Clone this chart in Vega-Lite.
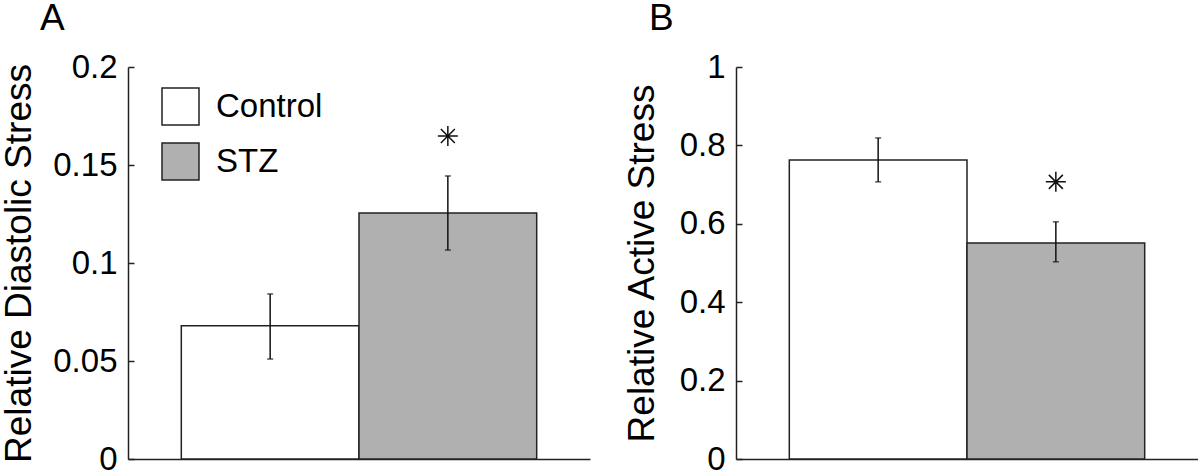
{
  "$schema": "https://vega.github.io/schema/vega-lite/v6.json",
  "autosize": {"type": "pad"},
  "padding": {"left": 0, "top": 0, "right": 0, "bottom": 0},
  "background": "white",
  "config": {
    "font": "Liberation Sans",
    "view": {"stroke": null},
    "axis": {"grid": false, "domainColor": "#222", "domainWidth": 1.5, "tickColor": "#222", "tickWidth": 1.5, "labelColor": "black", "titleColor": "black", "labelFont": "Liberation Sans", "titleFont": "Liberation Sans", "titleFontWeight": "normal"},
    "legend": {"labelFont": "Liberation Sans"},
    "title": {"font": "Liberation Sans"}
  },
  "datasets": {
    "bars": [
      {"panel": "A", "group": "Control", "pos": 1, "lo_edge": 0.5, "hi_edge": 1.5, "mean": 0.068, "lo": 0.051, "hi": 0.0842},
      {"panel": "A", "group": "STZ", "pos": 2, "lo_edge": 1.5, "hi_edge": 2.5, "mean": 0.1255, "lo": 0.1066, "hi": 0.1444},
      {"panel": "B", "group": "Control", "pos": 1, "lo_edge": 0.5, "hi_edge": 1.5, "mean": 0.763, "lo": 0.707, "hi": 0.819},
      {"panel": "B", "group": "STZ", "pos": 2, "lo_edge": 1.5, "hi_edge": 2.5, "mean": 0.551, "lo": 0.503, "hi": 0.605}
    ],
    "stars": [
      {"panel": "A", "pos": 2, "y": 0.1648},
      {"panel": "B", "pos": 2, "y": 0.707}
    ]
  },
  "resolve": {"scale": {"fill": "independent"}, "legend": {"fill": "independent"}},
  "bounds": "flush",
  "spacing": 146,
  "hconcat": [
    {
      "width": 462,
      "height": 392,
      "title": {"text": "A", "anchor": "start", "frame": "group", "fontSize": 37, "fontWeight": "normal", "dx": -88, "offset": 13, "color": "black"},
      "layer": [
        {
          "data": {"name": "bars"},
          "transform": [{"filter": "datum.panel === 'A'"}],
          "mark": {"type": "bar", "stroke": "#222", "strokeWidth": 1.5},
          "encoding": {
            "x": {"field": "lo_edge", "type": "quantitative", "scale": {"domain": [0.2, 2.8], "nice": false, "zero": false}, "axis": {"title": null, "labels": false, "ticks": false, "domain": true}},
            "x2": {"field": "hi_edge"},
            "y": {"field": "mean", "type": "quantitative", "scale": {"domain": [0, 0.2], "nice": false}, "axis": {"title": "Relative Diastolic Stress", "values": [0, 0.05, 0.1, 0.15, 0.2], "format": "~g", "tickSize": -6, "labelPadding": 17, "labelFontSize": 33, "titleFontSize": 37, "titlePadding": 14}},
            "y2": {"datum": 0},
            "fill": {"field": "group", "type": "nominal", "scale": {"domain": ["Control", "STZ"], "range": ["white", "#b0b0b0"]}, "legend": {"title": null, "orient": "none", "legendX": 33, "legendY": 20, "symbolType": "square", "symbolSize": 1369, "symbolStrokeColor": "#222", "symbolStrokeWidth": 1.5, "labelFontSize": 33, "labelColor": "black", "labelOffset": 16, "rowPadding": 12, "padding": 0}}
          }
        },
        {
          "data": {"name": "bars"},
          "transform": [{"filter": "datum.panel === 'A'"}],
          "mark": {"type": "rule", "color": "#111", "strokeWidth": 1.5},
          "encoding": {"x": {"field": "pos", "type": "quantitative"}, "y": {"field": "lo", "type": "quantitative"}, "y2": {"field": "hi"}}
        },
        {
          "data": {"name": "bars"},
          "transform": [{"filter": "datum.panel === 'A'"}],
          "mark": {"type": "tick", "orient": "horizontal", "color": "#111", "size": 6, "thickness": 1.5},
          "encoding": {"x": {"field": "pos", "type": "quantitative"}, "y": {"field": "lo", "type": "quantitative"}}
        },
        {
          "data": {"name": "bars"},
          "transform": [{"filter": "datum.panel === 'A'"}],
          "mark": {"type": "tick", "orient": "horizontal", "color": "#111", "size": 6, "thickness": 1.5},
          "encoding": {"x": {"field": "pos", "type": "quantitative"}, "y": {"field": "hi", "type": "quantitative"}}
        },
        {
          "data": {"name": "stars"},
          "transform": [{"filter": "datum.panel === 'A'"}],
          "mark": {"type": "point", "shape": "M-1,0L1,0M0,-1L0,1M-0.7,-0.7L0.7,0.7M-0.7,0.7L0.7,-0.7", "size": 400, "stroke": "#111", "strokeWidth": 1.5, "filled": false, "opacity": 1},
          "encoding": {"x": {"field": "pos", "type": "quantitative"}, "y": {"field": "y", "type": "quantitative"}}
        }
      ]
    },
    {
      "width": 462,
      "height": 392,
      "title": {"text": "B", "anchor": "start", "frame": "group", "fontSize": 37, "fontWeight": "normal", "dx": -87, "offset": 13, "color": "black"},
      "layer": [
        {
          "data": {"name": "bars"},
          "transform": [{"filter": "datum.panel === 'B'"}],
          "mark": {"type": "bar", "stroke": "#222", "strokeWidth": 1.5},
          "encoding": {
            "x": {"field": "lo_edge", "type": "quantitative", "scale": {"domain": [0.2, 2.8], "nice": false, "zero": false}, "axis": {"title": null, "labels": false, "ticks": false, "domain": true}},
            "x2": {"field": "hi_edge"},
            "y": {"field": "mean", "type": "quantitative", "scale": {"domain": [0, 1], "nice": false}, "axis": {"title": "Relative Active Stress", "values": [0, 0.2, 0.4, 0.6, 0.8, 1], "format": "~g", "tickSize": -6, "labelPadding": 17, "labelFontSize": 33, "titleFontSize": 37, "titlePadding": 18}},
            "y2": {"datum": 0},
            "fill": {"field": "group", "type": "nominal", "scale": {"domain": ["Control", "STZ"], "range": ["white", "#b0b0b0"]}, "legend": null}
          }
        },
        {
          "data": {"name": "bars"},
          "transform": [{"filter": "datum.panel === 'B'"}],
          "mark": {"type": "rule", "color": "#111", "strokeWidth": 1.5},
          "encoding": {"x": {"field": "pos", "type": "quantitative"}, "y": {"field": "lo", "type": "quantitative"}, "y2": {"field": "hi"}}
        },
        {
          "data": {"name": "bars"},
          "transform": [{"filter": "datum.panel === 'B'"}],
          "mark": {"type": "tick", "orient": "horizontal", "color": "#111", "size": 6, "thickness": 1.5},
          "encoding": {"x": {"field": "pos", "type": "quantitative"}, "y": {"field": "lo", "type": "quantitative"}}
        },
        {
          "data": {"name": "bars"},
          "transform": [{"filter": "datum.panel === 'B'"}],
          "mark": {"type": "tick", "orient": "horizontal", "color": "#111", "size": 6, "thickness": 1.5},
          "encoding": {"x": {"field": "pos", "type": "quantitative"}, "y": {"field": "hi", "type": "quantitative"}}
        },
        {
          "data": {"name": "stars"},
          "transform": [{"filter": "datum.panel === 'B'"}],
          "mark": {"type": "point", "shape": "M-1,0L1,0M0,-1L0,1M-0.7,-0.7L0.7,0.7M-0.7,0.7L0.7,-0.7", "size": 400, "stroke": "#111", "strokeWidth": 1.5, "filled": false, "opacity": 1},
          "encoding": {"x": {"field": "pos", "type": "quantitative"}, "y": {"field": "y", "type": "quantitative"}}
        }
      ]
    }
  ]
}
